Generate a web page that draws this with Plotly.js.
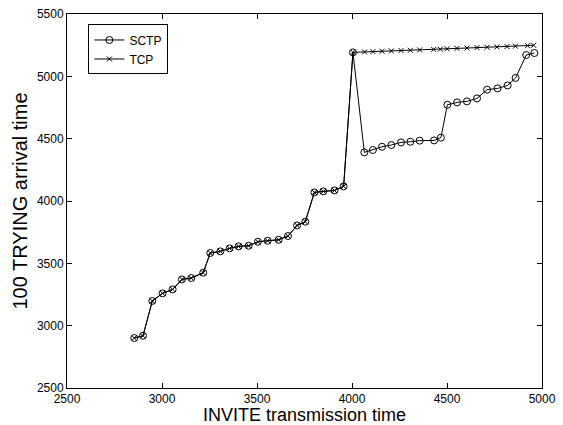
<!DOCTYPE html>
<html>
<head>
<meta charset="utf-8">
<script src="https://cdn.plot.ly/plotly-3.0.1.min.js"></script>
<style>html,body{margin:0;padding:0;background:#fff;}#chart{width:563px;height:425px;}</style>
</head>
<body>
<div id="chart"></div>
<script>
// INVITE transmission times (x) and 100 TRYING arrival times (y)
const sctpX = [2854, 2900, 2949, 3003, 3056, 3105, 3154, 3217, 3254, 3307, 3356, 3403, 3456, 3505, 3556, 3614, 3663, 3711, 3754, 3802, 3849, 3908, 3956, 4005,
               4065, 4110, 4158, 4207, 4258, 4307, 4356, 4432, 4468, 4502, 4553, 4605, 4658, 4711, 4766, 4819, 4861, 4917, 4960];
const sctpY = [2901, 2919, 3198, 3259, 3291, 3371, 3382, 3425, 3583, 3596, 3620, 3636, 3641, 3673, 3681, 3689, 3719, 3804, 3834, 4069, 4077, 4085, 4117, 5192,
               4390, 4409, 4435, 4449, 4470, 4475, 4484, 4486, 4508, 4772, 4791, 4799, 4823, 4893, 4903, 4927, 4987, 5171, 5187];
const tcpX = [2854, 2900, 2949, 3003, 3056, 3105, 3154, 3217, 3254, 3307, 3356, 3403, 3456, 3505, 3556, 3614, 3663, 3711, 3754, 3802, 3849, 3908, 3956, 4005,
              4066, 4110, 4158, 4207, 4258, 4307, 4356, 4430, 4465, 4500, 4553, 4605, 4658, 4711, 4763, 4816, 4860, 4924, 4956];
const tcpY = [2901, 2919, 3198, 3259, 3291, 3371, 3382, 3425, 3583, 3596, 3620, 3636, 3641, 3673, 3681, 3689, 3719, 3804, 3834, 4069, 4077, 4085, 4117, 5192,
              5196, 5198, 5201, 5204, 5207, 5209, 5212, 5216, 5218, 5221, 5224, 5227, 5230, 5233, 5236, 5239, 5242, 5246, 5249];
const seriesNames = ['SCTP', 'TCP'];
const xTicks = [2500, 3000, 3500, 4000, 4500, 5000];
const yTicks = [2500, 3000, 3500, 4000, 4500, 5000, 5500];

const FONT = 'Liberation Sans, Arial, Helvetica, sans-serif';

const traces = [
  {x: sctpX, y: sctpY, name: seriesNames[0], type: 'scatter', mode: 'lines+markers',
   line: {color: '#000', width: 1},
   marker: {symbol: 'circle-open', size: 7, color: '#000', line: {width: 1, color: '#000'}}},
  {x: tcpX, y: tcpY, name: seriesNames[1], type: 'scatter', mode: 'lines+markers',
   line: {color: '#000', width: 1},
   marker: {symbol: 'x-thin-open', size: 5, color: '#000', line: {width: 1, color: '#000'}}}
];

const axisCommon = {
  showgrid: false, zeroline: false, showline: true, linecolor: '#000', linewidth: 1,
  mirror: 'ticks', ticks: 'inside', ticklen: 5, tickcolor: '#000', tickwidth: 1,
  tickfont: {family: FONT, size: 12, color: '#000'}
};

const layout = {
  width: 563, height: 425,
  margin: {l: 67, r: 21, t: 14, b: 37},
  paper_bgcolor: '#fff', plot_bgcolor: '#fff',
  showlegend: true,
  legend: {x: 0.045, y: 0.972, xanchor: 'left', yanchor: 'top',
           bgcolor: '#fff', bordercolor: '#000', borderwidth: 1,
           itemwidth: 30, tracegroupgap: 0,
           font: {family: FONT, size: 12, color: '#000'}},
  xaxis: Object.assign({}, axisCommon, {
    range: [2500, 5000], tickvals: xTicks, ticktext: xTicks.map(String),
    title: {text: 'INVITE transmission time', standoff: 7,
            font: {family: FONT, size: 18, color: '#000'}}
  }),
  yaxis: Object.assign({}, axisCommon, {
    range: [2500, 5500], tickvals: yTicks, ticktext: yTicks.map(String),
    title: {text: '100 TRYING arrival time', standoff: 3,
            font: {family: FONT, size: 20, color: '#000'}}
  })
};

Plotly.newPlot('chart', traces, layout, {displayModeBar: false, staticPlot: true});
</script>
</body>
</html>
